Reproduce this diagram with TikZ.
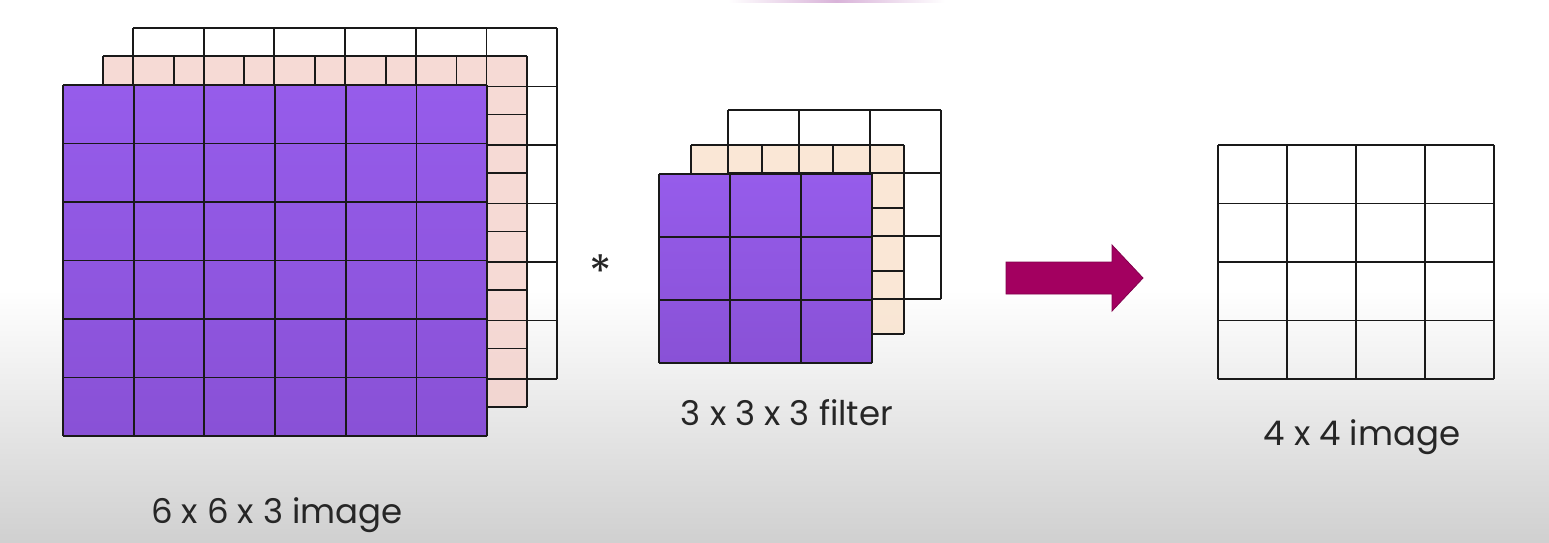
\documentclass[tikz,border=0pt]{standalone}
\usepackage{fontspec}
\setmainfont{Poppins}
\definecolor{slidegray}{RGB}{208,208,208}
\definecolor{cellpurple}{RGB}{150,92,235}
\definecolor{cellpurpledark}{RGB}{137,81,214}
\definecolor{cellpink}{RGB}{244,209,203}
\definecolor{cellpeach}{RGB}{249,226,204}
\definecolor{arrowmagenta}{RGB}{163,0,96}
\tikzset{
	gridline/.style={line width=1.7pt, black!90},
	frontlayer/.style={top color=cellpurple, bottom color=cellpurpledark},
	lbl/.style={font=\fontsize{34}{40}\selectfont, text=black!85, inner sep=0pt},
}

\begin{document}
\begin{tikzpicture}[x=1pt, y=-1pt]
	% Background:
	\useasboundingbox (0, 0) rectangle (1549, 542);
	\fill[white] (0, 0) rectangle (1549, 292);
	\shade[top color=white, bottom color=slidegray] (0, 290) rectangle (1549, 542);
	\shade[left color=white, right color=white, middle color=violet!30] (728, 0) rectangle (945, 2);

	% 6 x 6 x 3 image:
	\fill[cellpink, fill opacity=0.8] (103, 56) rectangle (527, 407);
	\foreach \i in {0,...,6} {
		\draw[gridline] ({133+\i*70.67}, 28) -- ({133+\i*70.67}, 379);
		\draw[gridline] (133, {28+\i*58.5}) -- (557, {28+\i*58.5});
		\draw[gridline] ({103+\i*70.67}, 56) -- ({103+\i*70.67}, 407);
		\draw[gridline] (103, {56+\i*58.5}) -- (527, {56+\i*58.5});
	}
	\shade[frontlayer] (63, 85) rectangle (487, 436);
	\foreach \i in {0,...,6} {
		\draw[gridline] ({63+\i*70.67}, 85) -- ({63+\i*70.67}, 436);
		\draw[gridline] (63, {85+\i*58.5}) -- (487, {85+\i*58.5});
	}
	\node[lbl] (inputlbl) at (277, 515) {6 x 6 x 3 image};

	% Convolution sign:
	\node[lbl, font=\fontsize{46}{50}\selectfont, anchor=north] (conv) at (601, 255) {*};

	% 3 x 3 x 3 filter:
	\fill[cellpeach, fill opacity=0.8] (691, 145) rectangle (904, 334);
	\foreach \i in {0,...,3} {
		\draw[gridline] ({728+\i*71}, 110) -- ({728+\i*71}, 299);
		\draw[gridline] (728, {110+\i*63}) -- (941, {110+\i*63});
		\draw[gridline] ({691+\i*71}, 145) -- ({691+\i*71}, 334);
		\draw[gridline] (691, {145+\i*63}) -- (904, {145+\i*63});
	}
	\shade[frontlayer] (659, 174) rectangle (872, 363);
	\foreach \i in {0,...,3} {
		\draw[gridline] ({659+\i*71}, 174) -- ({659+\i*71}, 363);
		\draw[gridline] (659, {174+\i*63}) -- (872, {174+\i*63});
	}
	\node[lbl] (filterlbl) at (787, 413) {3 x 3 x 3 filter};

	% Arrow:
	\path[fill=arrowmagenta, draw=arrowmagenta!80!black, line width=0.8pt] (1006, 262) -- (1112, 262) -- (1112, 245) -- (1143, 278) -- (1112, 311) -- (1112, 294) -- (1006, 294) -- cycle;

	% 4 x 4 image:
	\foreach \i in {0,...,4} {
		\draw[gridline] ({1218+\i*69}, 145) -- ({1218+\i*69}, 379);
		\draw[gridline] (1218, {145+\i*58.5}) -- (1494, {145+\i*58.5});
	}
	\node[lbl] (outputlbl) at (1362, 437) {4 x 4 image};
\end{tikzpicture}
\end{document}
